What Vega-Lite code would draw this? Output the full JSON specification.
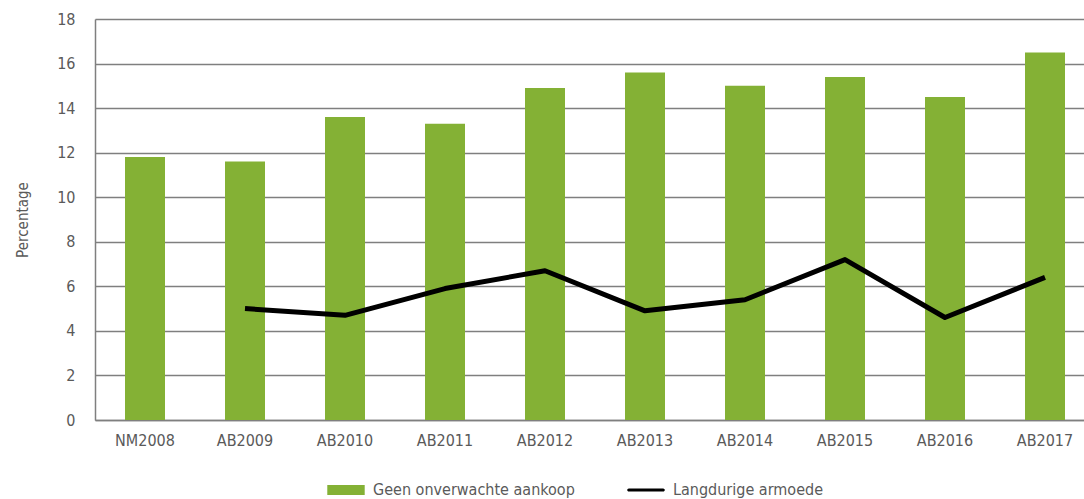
{
  "$schema": "https://vega.github.io/schema/vega-lite/v6.json",
  "autosize": {"type": "none"},
  "padding": {"left": 95, "top": 19, "right": 0, "bottom": 79},
  "width": 1000,
  "height": 401,
  "background": "white",
  "config": {
    "font": "DejaVu Sans Condensed",
    "view": {"stroke": null},
    "axis": {"labelFont": "DejaVu Sans Condensed", "labelColor": "#5a5a5a", "labelFontSize": 16, "titleColor": "#5a5a5a", "titleFont": "DejaVu Sans Condensed"}
  },
  "data": {
    "values": [
      {"year": "NM2008", "series": "Geen onverwachte aankoop", "value": 11.8},
      {"year": "AB2009", "series": "Geen onverwachte aankoop", "value": 11.6},
      {"year": "AB2010", "series": "Geen onverwachte aankoop", "value": 13.6},
      {"year": "AB2011", "series": "Geen onverwachte aankoop", "value": 13.3},
      {"year": "AB2012", "series": "Geen onverwachte aankoop", "value": 14.9},
      {"year": "AB2013", "series": "Geen onverwachte aankoop", "value": 15.6},
      {"year": "AB2014", "series": "Geen onverwachte aankoop", "value": 15.0},
      {"year": "AB2015", "series": "Geen onverwachte aankoop", "value": 15.4},
      {"year": "AB2016", "series": "Geen onverwachte aankoop", "value": 14.5},
      {"year": "AB2017", "series": "Geen onverwachte aankoop", "value": 16.5},
      {"year": "AB2009", "series": "Langdurige armoede", "value": 5.0},
      {"year": "AB2010", "series": "Langdurige armoede", "value": 4.7},
      {"year": "AB2011", "series": "Langdurige armoede", "value": 5.9},
      {"year": "AB2012", "series": "Langdurige armoede", "value": 6.7},
      {"year": "AB2013", "series": "Langdurige armoede", "value": 4.9},
      {"year": "AB2014", "series": "Langdurige armoede", "value": 5.4},
      {"year": "AB2015", "series": "Langdurige armoede", "value": 7.2},
      {"year": "AB2016", "series": "Langdurige armoede", "value": 4.6},
      {"year": "AB2017", "series": "Langdurige armoede", "value": 6.4}
    ]
  },
  "encoding": {
    "x": {
      "field": "year", "type": "nominal", "sort": null,
      "scale": {"paddingInner": 0.6, "paddingOuter": 0.3},
      "axis": {"title": null, "labelAngle": 0, "ticks": false, "domainColor": "#7f7f7f", "domainWidth": 1.5, "labelPadding": 12}
    },
    "y": {
      "field": "value", "type": "quantitative",
      "scale": {"domain": [0, 18], "nice": false},
      "axis": {"title": "Percentage", "titleFontSize": 15, "titleFontWeight": "normal", "titlePadding": 26, "values": [0, 2, 4, 6, 8, 10, 12, 14, 16, 18], "ticks": false, "labelPadding": 20, "gridColor": "#7f7f7f", "gridWidth": 1.5, "domainColor": "#7f7f7f", "domainWidth": 1.5}
    },
    "color": {
      "field": "series", "type": "nominal",
      "scale": {"domain": ["Geen onverwachte aankoop", "Langdurige armoede"], "range": ["#84b135", "#000000"]},
      "legend": {
        "title": null, "orient": "none", "direction": "horizontal",
        "legendX": 232, "legendY": 452,
        "symbolType": "M-1,-0.27H1V0.27H-1Z", "symbolSize": 1400, "symbolStrokeWidth": 0,
        "labelFontSize": 16, "labelColor": "#5a5a5a", "labelFont": "DejaVu Sans Condensed", "labelLimit": 400,
        "columnPadding": 52, "labelOffset": 8,
        "encode": {
          "symbols": {
            "update": {
              "shape": {"signal": "datum.value === 'Langdurige armoede' ? 'M-0.92,-0.085H0.92A0.085,0.085 0 0 1 0.92,0.085H-0.92A0.085,0.085 0 0 1 -0.92,-0.085Z' : 'M-1,-0.27H1V0.27H-1Z'"}
            }
          }
        }
      }
    }
  },
  "layer": [
    {
      "transform": [{"filter": "datum.series === 'Geen onverwachte aankoop'"}],
      "mark": {"type": "bar"}
    },
    {
      "transform": [{"filter": "datum.series === 'Langdurige armoede'"}],
      "mark": {"type": "line", "strokeWidth": 5, "strokeJoin": "round", "strokeCap": "butt"}
    }
  ]
}
